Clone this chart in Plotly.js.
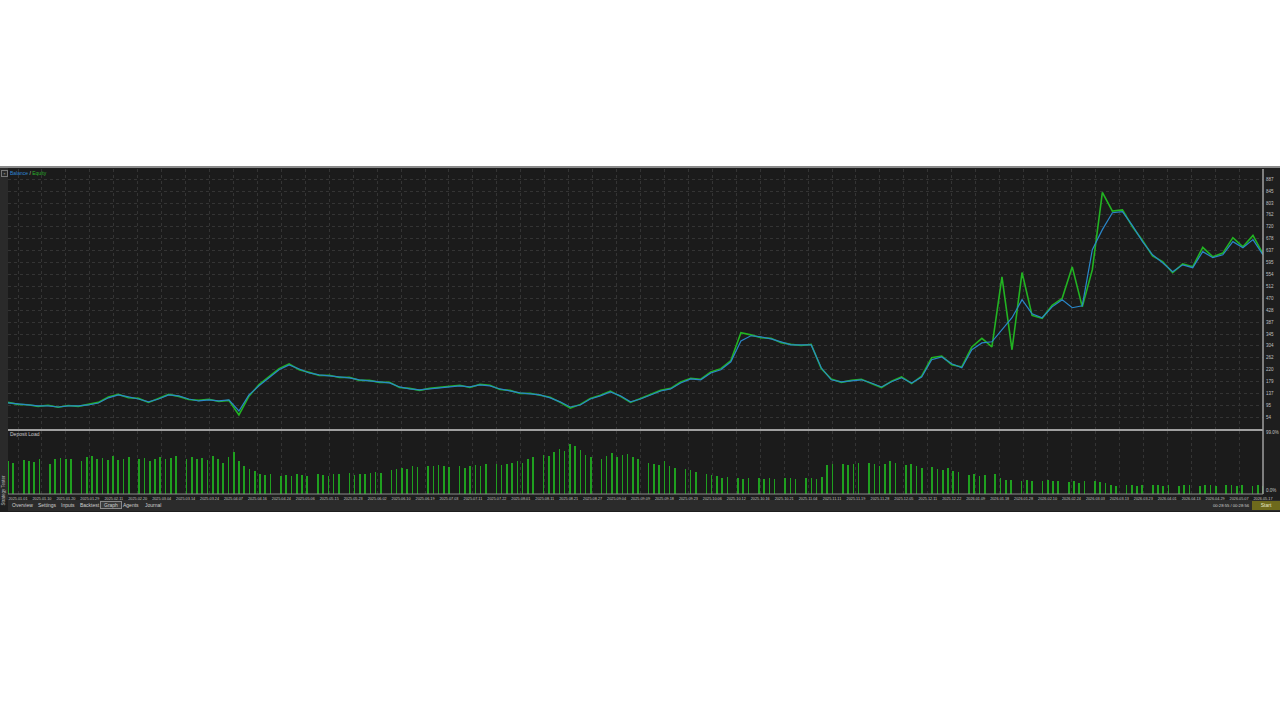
<!DOCTYPE html>
<html><head><meta charset="utf-8">
<script src="https://cdn.plot.ly/plotly-3.0.1.min.js"></script>
<style>
html,body{margin:0;padding:0;width:1280px;height:720px;background:#fff;overflow:hidden;font-family:"Liberation Sans",sans-serif;}
#frame{position:absolute;left:0;top:166px;width:1280px;height:346px;background:#1e1e1e;border-top:2px solid #8a8a8a;box-sizing:border-box;}
#strip{position:absolute;left:0;top:168px;width:8px;height:332px;background:#2a2a2a;}
#plot{position:absolute;left:0;top:0;width:1280px;height:720px;z-index:1;}
.ov{position:absolute;z-index:2;color:#c8c8c8;font-size:5px;line-height:6px;white-space:nowrap;}
#tabs{position:absolute;left:8px;top:500px;width:1272px;height:11px;background:#2b2b2b;z-index:2;}
.tab{position:absolute;top:2px;font-size:5px;color:#cfcfcf;white-space:nowrap;}
#vt{position:absolute;left:-12px;top:488px;transform:rotate(-90deg);font-size:4.5px;color:#bbb;z-index:2;white-space:nowrap;}
#close{position:absolute;left:1px;top:170px;width:5px;height:5px;border:1px solid #777;z-index:2;font-size:4px;color:#aaa;line-height:5px;text-align:center;}
#start{position:absolute;left:1252px;top:501px;width:28px;height:9px;background:#6e6a1c;color:#e8e8c8;font-size:5px;line-height:9px;text-align:center;z-index:2;}
</style></head><body>
<div id="frame"></div>
<div id="strip"></div>
<div id="plot"></div>
<div id="close">×</div>
<div id="vt">Strategy Tester</div>
<div class="ov" style="left:10px;top:170px;"><span style="color:#2f86d6">Balance</span> / <span style="color:#2cb02c">Equity</span></div>
<div class="ov" style="left:10px;top:431px;">Deposit Load</div>
<div id="tabs">
<span class="tab" style="left:4px">Overview</span>
<span class="tab" style="left:30px">Settings</span>
<span class="tab" style="left:53px">Inputs</span>
<span class="tab" style="left:72px">Backtest</span>
<span class="tab" style="left:92px;top:1px;padding:0 3px;border:1px solid #888;background:#3a3a3a">Graph</span>
<span class="tab" style="left:115px">Agents</span>
<span class="tab" style="left:137px">Journal</span>
<span class="tab" style="left:1205px;top:3px;font-size:4.2px">00:28:55 / 00:28:56</span>
</div>
<div id="start">Start</div>
<script>
const xLabels = ["2025.01.01","2025.01.10","2025.01.20","2025.01.29","2025.02.11","2025.02.20","2025.03.04","2025.03.14","2025.03.24","2025.04.07","2025.04.16","2025.04.24","2025.05.06","2025.05.15","2025.05.23","2025.06.02","2025.06.10","2025.06.19","2025.07.03","2025.07.11","2025.07.22","2025.08.01","2025.08.11","2025.08.21","2025.08.27","2025.09.04","2025.09.09","2025.09.18","2025.09.23","2025.10.06","2025.10.12","2025.10.16","2025.10.21","2025.11.04","2025.11.11","2025.11.19","2025.11.28","2025.12.05","2025.12.11","2025.12.22","2026.01.09","2026.01.18","2026.01.28","2026.02.10","2026.02.24","2026.03.03","2026.03.13","2026.03.23","2026.04.01","2026.04.13","2026.04.29","2026.05.07","2026.05.17"];
const yTicks = [12,54,95,137,179,220,262,304,345,387,428,470,512,554,595,637,678,720,762,803,845,887];
const balance = [104,101,97,94,94,90,94,94,97,104,
122,132,125,118,108,118,132,129,118,111,
115,111,115,76,132,164,192,220,237,223,
209,202,199,195,192,185,181,178,174,160,
153,150,153,157,160,164,160,167,164,153,
146,139,136,132,122,108,90,97,118,129,
143,129,108,118,132,146,153,174,188,185,
209,220,248,321,339,335,328,318,307,307,
307,227,185,178,181,185,174,160,178,192,
174,195,255,265,241,227,290,314,318,360,
402,465,416,402,440,465,437,444,640,710,
769,773,724,668,622,594,563,587,577,633,
612,622,668,647,675,622];
const equity = [106,99,98,92,96,89,95,92,99,106,
125,134,122,120,106,121,134,127,116,113,
117,109,113,62,128,168,195,224,241,220,
211,200,201,193,194,183,183,176,176,158,
155,148,155,159,162,166,158,169,166,151,
148,137,138,130,124,106,86,99,120,131,
145,127,106,120,134,148,155,177,190,187,
212,224,252,350,342,332,330,315,309,305,
309,224,188,176,183,187,172,158,180,195,
172,198,262,268,238,230,300,330,300,545,
290,560,410,400,445,470,580,440,570,840,
775,779,720,672,618,598,560,590,580,648,
615,628,682,650,690,625];
const depositLoad = [52,50,0,54,53,51,55,0,48,56,
57,55,56,0,52,58,60,55,57,54,
60,54,56,58,0,55,57,52,56,58,
55,57,60,0,56,58,55,57,54,60,
55,50,58,66,52,44,40,36,32,30,
31,0,29,30,28,31,30,29,0,31,
30,28,32,31,0,33,30,32,31,33,
35,34,0,38,40,42,39,44,43,0,
45,44,46,45,43,0,44,42,44,46,
45,48,0,47,46,48,50,52,49,55,
58,0,62,60,66,72,68,80,76,70,
62,58,0,56,60,65,58,62,64,58,
55,0,50,48,46,52,44,42,0,40,
38,35,0,32,30,28,26,27,0,25,
24,25,0,26,24,25,24,0,26,25,
24,0,25,26,24,27,46,48,0,47,
46,48,50,0,49,47,45,48,52,50,
0,46,48,44,42,0,43,40,38,42,
36,35,0,30,32,28,30,0,32,25,
22,23,0,21,22,20,0,21,22,20,
21,0,19,20,18,21,0,20,19,18,
14,13,0,15,14,13,14,0,15,14,
13,14,0,13,15,14,0,13,14,15,
13,0,14,15,13,14,0,13,14,12];

const XMAX = 1000;
const xs = balance.map((_, i) => i * XMAX / (balance.length - 1));
const xb = depositLoad.map((_, j) => j * XMAX / (depositLoad.length - 1));
const tickvals = xLabels.map((_, k) => (10 + k * (1245 / 52)) * XMAX / 1255);

const px = v => v / 1280, py = v => 1 - v / 720;
const tf = {family: "Liberation Sans, sans-serif", size: 4.5, color: "#c0c0c0"};

const traces = [
  {x: xs, y: equity, type: "scatter", mode: "lines", name: "Equity", line: {color: "#22b322", width: 1.6}, xaxis: "x", yaxis: "y", hoverinfo: "skip"},
  {x: xs, y: balance, type: "scatter", mode: "lines", name: "Balance", line: {color: "#2a86c8", width: 1.2}, xaxis: "x", yaxis: "y", hoverinfo: "skip"},
  {x: xb, y: depositLoad, type: "bar", name: "Deposit Load", marker: {color: "#1fa01f", line: {width: 0}}, width: 1.3, xaxis: "x", yaxis: "y2", hoverinfo: "skip"}
];

const layout = {
  width: 1280, height: 720,
  margin: {l: 0, r: 0, t: 0, b: 0},
  paper_bgcolor: "rgba(0,0,0,0)",
  plot_bgcolor: "#1b1b1b",
  showlegend: false,
  font: tf,
  xaxis: {
    domain: [px(8), px(1263)], range: [0, XMAX], anchor: "y2",
    tickmode: "array", tickvals: tickvals, ticktext: xLabels, tickangle: 0,
    tickfont: {family: "Liberation Sans, sans-serif", size: 3.8, color: "#c0c0c0"},
    showgrid: true, gridcolor: "#343434", griddash: "dot", gridwidth: 1,
    zeroline: false, showline: false, ticks: "", ticklabelstandoff: 1
  },
  yaxis: {
    domain: [py(429), py(169)], range: [13, 922], side: "right", anchor: "x",
    tickmode: "array", tickvals: yTicks, ticktext: yTicks.map(String),
    tickfont: tf,
    showgrid: true, gridcolor: "#343434", griddash: "dot", gridwidth: 1,
    zeroline: false, showline: false, ticks: "", ticklabelstandoff: 2
  },
  yaxis2: {
    domain: [py(494), py(431)], range: [0, 100], side: "right", anchor: "x",
    tickmode: "array", tickvals: [5, 97], ticktext: ["0.0%", "99.0%"],
    tickfont: tf,
    showgrid: false, zeroline: false, showline: false, ticks: "", ticklabelstandoff: 2
  },
  bargap: 0,
  shapes: [
    {type: "line", xref: "paper", yref: "paper", x0: px(8), x1: px(1263), y0: py(430), y1: py(430), line: {color: "#a0a0a0", width: 2}},
    {type: "line", xref: "paper", yref: "paper", x0: px(1263), x1: px(1263), y0: py(169), y1: py(494), line: {color: "#a0a0a0", width: 1.5}},
    {type: "line", xref: "paper", yref: "paper", x0: px(8), x1: px(1263), y0: py(494), y1: py(494), line: {color: "#8a8a8a", width: 1}}
  ]
};

Plotly.newPlot("plot", traces, layout, {staticPlot: true, displayModeBar: false});
</script>
</body></html>
